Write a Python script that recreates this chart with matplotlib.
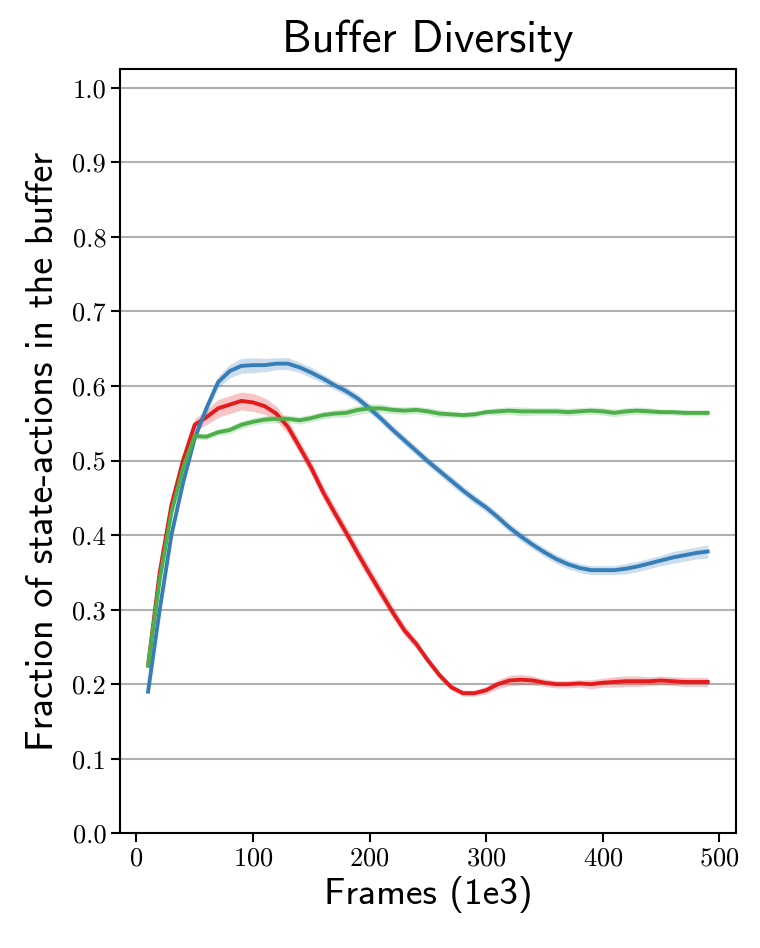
import numpy as np
import matplotlib
matplotlib.use('Agg')
from matplotlib import pyplot as plt

frames = list(range(10, 500, 10))

blue = [0.19, 0.30, 0.40, 0.47, 0.53, 0.57, 0.605, 0.62, 0.627, 0.628,
        0.628, 0.63, 0.63, 0.625, 0.618, 0.61, 0.601, 0.593, 0.583, 0.57,
        0.556, 0.541, 0.527, 0.513, 0.499, 0.486, 0.473, 0.46, 0.448, 0.437,
        0.424, 0.41, 0.398, 0.387, 0.377, 0.368, 0.361, 0.356, 0.353, 0.353,
        0.353, 0.355, 0.358, 0.362, 0.366, 0.37, 0.373, 0.376, 0.378]

red = [0.225, 0.35, 0.44, 0.50, 0.548, 0.558, 0.57, 0.575, 0.58, 0.578,
       0.573, 0.563, 0.545, 0.518, 0.49, 0.458, 0.43, 0.403, 0.375, 0.348,
       0.322, 0.296, 0.272, 0.254, 0.232, 0.212, 0.196, 0.188, 0.188, 0.192,
       0.2, 0.205, 0.206, 0.205, 0.202, 0.2, 0.2, 0.201, 0.2, 0.202,
       0.203, 0.204, 0.204, 0.204, 0.205, 0.204, 0.203, 0.203, 0.203]

green = [0.225, 0.34, 0.43, 0.49, 0.533, 0.532, 0.538, 0.541, 0.548, 0.552,
         0.555, 0.556, 0.556, 0.554, 0.557, 0.561, 0.563, 0.564, 0.568, 0.57,
         0.57, 0.568, 0.567, 0.568, 0.566, 0.563, 0.562, 0.561, 0.562, 0.565,
         0.566, 0.567, 0.566, 0.566, 0.566, 0.566, 0.565, 0.566, 0.567, 0.566,
         0.564, 0.566, 0.567, 0.566, 0.565, 0.565, 0.564, 0.564, 0.564]

# half width of the shaded band
blue_err = [0.003, 0.004, 0.005, 0.005, 0.006, 0.007, 0.008, 0.009, 0.01, 0.01,
            0.009, 0.008, 0.008, 0.007, 0.007, 0.006, 0.006, 0.006, 0.006, 0.006,
            0.006, 0.006, 0.006, 0.006, 0.006, 0.006, 0.006, 0.006, 0.006, 0.006,
            0.006, 0.006, 0.006, 0.006, 0.006, 0.006, 0.006, 0.006, 0.006, 0.006,
            0.006, 0.007, 0.007, 0.007, 0.007, 0.008, 0.008, 0.008, 0.009]
red_err = [0.004, 0.005, 0.006, 0.007, 0.008, 0.01, 0.012, 0.012, 0.012, 0.012,
           0.011, 0.01, 0.009, 0.009, 0.009, 0.009, 0.009, 0.009, 0.009, 0.009,
           0.009, 0.008, 0.007, 0.006, 0.005, 0.005, 0.004, 0.004, 0.004, 0.005,
           0.006, 0.007, 0.007, 0.006, 0.005, 0.005, 0.005, 0.005, 0.006, 0.006,
           0.007, 0.007, 0.007, 0.006, 0.006, 0.006, 0.006, 0.006, 0.006]
green_err = [0.003, 0.004, 0.004, 0.004, 0.004, 0.004, 0.004, 0.005, 0.005, 0.005,
             0.005, 0.005, 0.005, 0.005, 0.005, 0.005, 0.005, 0.006, 0.006, 0.006,
             0.006, 0.005, 0.005, 0.005, 0.005, 0.005, 0.004, 0.004, 0.004, 0.004,
             0.005, 0.005, 0.006, 0.005, 0.005, 0.005, 0.005, 0.005, 0.005, 0.005,
             0.005, 0.005, 0.005, 0.005, 0.004, 0.004, 0.004, 0.004, 0.004]

plt.rcParams['font.family'] = 'serif'
plt.rcParams['font.serif'] = ['cmr10']
plt.rcParams['axes.formatter.use_mathtext'] = True

fig = plt.figure(figsize=(7.6, 9.48), dpi=100)
ax = fig.add_subplot(111)
fig.subplots_adjust(left=0.158, right=0.968, top=0.927, bottom=0.121)

ax.grid(axis='y', color='#b0b0b0', linewidth=1.5)
ax.set_axisbelow(True)

x = np.array(frames)
for vals, err, col in [(red, red_err, '#e41a1c'),
                       (blue, blue_err, '#377eb8'),
                       (green, green_err, '#4daf4a')]:
    v = np.array(vals)
    e = np.array(err)
    ax.fill_between(x, v - e, v + e, color=col, alpha=0.25, linewidth=0)
    ax.plot(x, v, color=col, linewidth=2.8)

ax.set_ylim(0, 1.025)
ax.set_yticks(np.arange(0, 1.01, 0.1))
ax.set_yticklabels(['%.1f' % t for t in np.arange(0, 1.01, 0.1)])
ax.set_xticks([0, 100, 200, 300, 400, 500])
ax.tick_params(labelsize=19, width=1.5, length=6.5)
for s in ax.spines.values():
    s.set_linewidth(1.5)

ax.set_title('Buffer Diversity', fontfamily='cmss10', fontsize=32, pad=12)
ax.set_xlabel('Frames (1e3)', fontfamily='cmss10', fontsize=27)
ax.set_ylabel('Fraction of state-actions in the buffer', fontfamily='cmss10',
              fontsize=27.5, labelpad=8)

plt.savefig('out.png', dpi=100)
